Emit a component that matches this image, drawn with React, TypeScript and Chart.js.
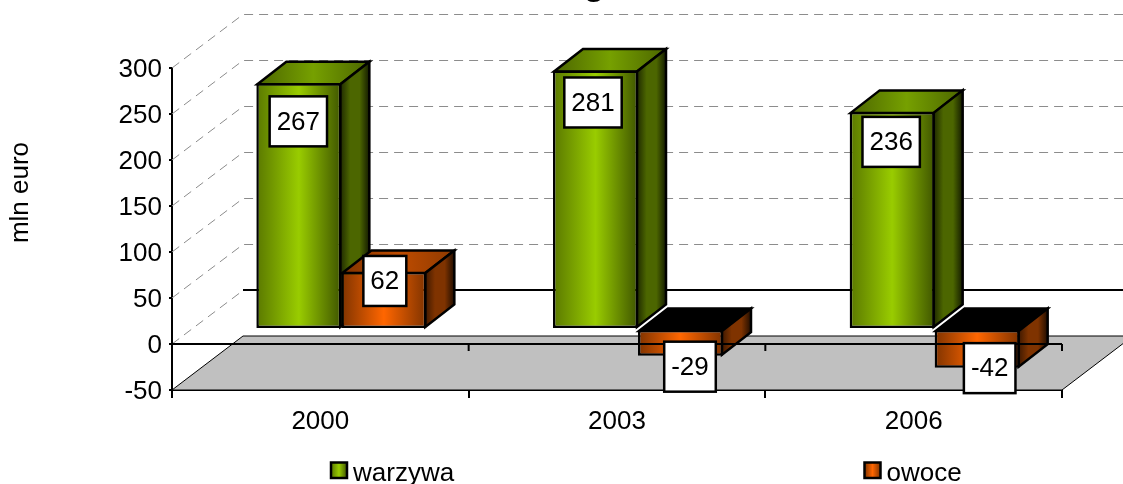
import React, { useEffect, useRef } from "react";
import { Chart, registerables } from "chart.js";

Chart.register(...registerables);

const categories = ["2000", "2003", "2006"];
const warzywa = [267, 281, 236];
const owoce = [62, -29, -42];
const seriesNames = ["warzywa", "owoce"];
const yTitle = "mln euro";
const clippedTitle = "g";

const FONT = '"Liberation Sans", Arial, sans-serif';
const FS = 26;
const BAR_SHIFT = { x: 21, y: -15 };
const BAR_DEPTH = { x: 29, y: -22.5 };
const WALL = { x: 71, y: -54 };
const LABEL_OFFSETS = [
  [{ x: -0.5, y: 38 }, { x: 1, y: 9 }],
  [{ x: -2.5, y: 32 }, { x: 9.5, y: 11 }],
  [{ x: -1, y: 30 }, { x: 12.5, y: 0.5 }],
];
const PALETTE = [
  { front: ["#5a7800", "#99cc00", "#3f5500"], side: ["#1f2a00", "#4c6600", "#4c6600", "#141b00"], top: ["#4c6600", "#76a000", "#4c6600"] },
  { front: ["#7f3300", "#ff6600", "#7f3300"], side: ["#3f1900", "#7f3300", "#7f3300", "#200d00"], top: ["#7f3300", "#bf4c00", "#8f3a00"] },
];

function grad(ctx: CanvasRenderingContext2D, x0: number, x1: number, stops: string[]) {
  const g = ctx.createLinearGradient(x0, 0, x1, 0);
  stops.forEach((c, i) => g.addColorStop(i / (stops.length - 1), c));
  return g;
}

function frontFill(ds: number) {
  return (c: any) => {
    const chart = c.chart;
    const sx = chart.scales?.x;
    if (!sx || !chart.chartArea) return PALETTE[ds].front[1];
    const center = sx.getPixelForValue(c.dataIndex);
    const w = (sx.width / categories.length) * 0.573 / 2;
    const left = ds === 0 ? center - w : center;
    return grad(chart.ctx, left, left + w, PALETTE[ds].front);
  };
}

function poly(ctx: CanvasRenderingContext2D, pts: number[][], fill: any, stroke = "#000", lw = 2.5) {
  ctx.beginPath();
  pts.forEach(([x, y], i) => (i ? ctx.lineTo(x, y) : ctx.moveTo(x, y)));
  ctx.closePath();
  if (fill) {
    ctx.fillStyle = fill;
    ctx.fill();
  }
  if (stroke) {
    ctx.strokeStyle = stroke;
    ctx.lineWidth = lw;
    ctx.lineJoin = "miter";
    ctx.stroke();
  }
}

function drawWalls(chart: any) {
  const { ctx, chartArea: a, scales } = chart;
  const y = scales.y;
  ctx.save();
  [300, 250, 200, 150, 100, 50, 0].forEach((v) => {
    const py = y.getPixelForValue(v);
    const back = Math.round(py + WALL.y) + 0.5;
    ctx.strokeStyle = "#8c8c8c";
    ctx.lineWidth = 1;
    ctx.setLineDash([9, 6]);
    ctx.beginPath();
    ctx.moveTo(a.left, py);
    ctx.lineTo(a.left + WALL.x, back);
    if (v !== 0) ctx.lineTo(a.right + WALL.x, back);
    ctx.stroke();
    ctx.setLineDash([]);
    if (v === 0) {
      ctx.strokeStyle = "#000";
      ctx.lineWidth = 2;
      ctx.beginPath();
      ctx.moveTo(a.left + WALL.x, py + WALL.y);
      ctx.lineTo(a.right + WALL.x, py + WALL.y);
      ctx.stroke();
    }
  });
  const fy = y.getPixelForValue(-50);
  poly(ctx, [[a.left, fy], [a.left + WALL.x, fy + WALL.y], [a.right + WALL.x, fy + WALL.y], [a.right, fy]], "#c0c0c0", "#000", 1);
  ctx.restore();
}

function drawBars(chart: any, ds: number) {
  const { ctx } = chart;
  const meta = chart.getDatasetMeta(ds);
  ctx.save();
  ctx.translate(BAR_SHIFT.x, BAR_SHIFT.y);
  meta.data.forEach((el: any) => {
    const l = el.x - el.width / 2 + 1;
    const r = el.x + el.width / 2 - 1;
    const t = Math.min(el.y, el.base) + 1;
    const b = Math.max(el.y, el.base) - 1;
    const neg = el.y > el.base;
    const d = BAR_DEPTH;
    poly(ctx, [[l, t], [r, t], [r + d.x, t + d.y], [l + d.x, t + d.y]],
      neg ? "#000" : grad(ctx, l, r + d.x, PALETTE[ds].top));
    poly(ctx, [[r, t], [r + d.x, t + d.y], [r + d.x, b + d.y], [r, b]], grad(ctx, r, r + d.x, PALETTE[ds].side));
  });
  meta.controller.draw();
  ctx.restore();
}

function drawOverlay(chart: any) {
  const { ctx, chartArea: a, scales } = chart;
  const y0 = scales.y.getPixelForValue(0);
  ctx.save();
  ctx.strokeStyle = "#000";
  ctx.lineWidth = 2;
  ctx.beginPath();
  ctx.moveTo(a.left, y0);
  ctx.lineTo(a.right, y0);
  for (let i = 0; i <= categories.length; i++) {
    const x = a.left + (i * a.width) / categories.length;
    ctx.moveTo(x, y0);
    ctx.lineTo(x, y0 + 7);
  }
  ctx.stroke();

  ctx.font = `${FS}px ${FONT}`;
  ctx.textAlign = "center";
  ctx.textBaseline = "middle";
  chart.data.datasets.forEach((_: any, ds: number) => {
    chart.getDatasetMeta(ds).data.forEach((el: any, i: number) => {
      const v = chart.data.datasets[ds].data[i];
      const off = LABEL_OFFSETS[i][ds];
      const cx = el.x + BAR_SHIFT.x + off.x;
      const cy = el.y + BAR_SHIFT.y + off.y;
      const text = String(v);
      const w = ctx.measureText(text).width + 14;
      const h = 50;
      ctx.fillStyle = "#fff";
      ctx.fillRect(cx - w / 2, cy - h / 2, w, h);
      ctx.strokeStyle = "#000";
      ctx.lineWidth = 2.5;
      ctx.strokeRect(cx - w / 2, cy - h / 2, w, h);
      ctx.fillStyle = "#000";
      ctx.fillText(text, cx, cy + 1);
    });
  });
  ctx.restore();
}

const scene3d = {
  id: "scene3d",
  beforeDatasetsDraw(chart: any) {
    drawWalls(chart);
    // left bar of each pair first, so the right bar overlaps its neighbour's side
    drawBars(chart, 0);
    drawBars(chart, 1);
    drawOverlay(chart);
    return false;
  },
  afterDraw(chart: any) {
    const { ctx } = chart;
    ctx.save();
    ctx.fillStyle = "#000";
    ctx.font = `40px ${FONT}`;
    ctx.textAlign = "center";
    ctx.textBaseline = "alphabetic";
    ctx.fillText(clippedTitle, 594, -6.5);
    ctx.font = `${FS}px ${FONT}`;
    ctx.save();
    ctx.translate(21, 192.5);
    ctx.rotate(-Math.PI / 2);
    ctx.textBaseline = "middle";
    ctx.fillText(yTitle, 0, 0);
    ctx.restore();
    const items = [
      { x: 331, ds: 0 },
      { x: 864.5, ds: 1 },
    ];
    ctx.textAlign = "left";
    ctx.textBaseline = "alphabetic";
    items.forEach(({ x, ds }) => {
      ctx.fillStyle = grad(ctx, x, x + 16, PALETTE[ds].front);
      ctx.fillRect(x, 462.5, 16, 15.5);
      ctx.strokeStyle = "#000";
      ctx.lineWidth = 2.5;
      ctx.strokeRect(x, 462.5, 16, 15.5);
      ctx.fillStyle = "#000";
      ctx.fillText(seriesNames[ds], x + 22, 481);
    });
    ctx.restore();
  },
};

export default function App() {
  const ref = useRef<HTMLCanvasElement>(null);
  useEffect(() => {
    document.body.style.margin = "0";
    const chart = new Chart(ref.current!, {
      type: "bar",
      data: {
        labels: categories,
        datasets: [
          { label: seriesNames[0], data: warzywa, backgroundColor: frontFill(0), borderColor: "#000", borderWidth: 2.5, borderSkipped: false, clip: false } as any,
          { label: seriesNames[1], data: owoce, backgroundColor: frontFill(1), borderColor: "#000", borderWidth: 2.5, borderSkipped: false, clip: false } as any,
        ],
      },
      options: {
        animation: false,
        responsive: false,
        devicePixelRatio: 1,
        layout: { padding: { top: 68, right: 61, left: 0, bottom: 0 } },
        datasets: { bar: { categoryPercentage: 0.573, barPercentage: 1 } },
        plugins: { legend: { display: false }, title: { display: false }, tooltip: { enabled: false } },
        scales: {
          x: {
            offset: true,
            afterFit: (s: any) => { s.height = 94; },
            grid: { display: true, drawOnChartArea: false, drawTicks: true, tickLength: 8, color: "#000", lineWidth: 2, offset: true },
            border: { display: true, color: "#000", width: 2 },
            ticks: { color: "#000", font: { family: FONT, size: FS }, padding: 8, maxRotation: 0 },
          },
          y: {
            min: -50,
            max: 300,
            afterFit: (s: any) => { s.width = 172; },
            grid: { display: true, drawOnChartArea: false, drawTicks: true, tickLength: 3, color: "#000", lineWidth: 2 },
            border: { display: true, color: "#000", width: 2 },
            ticks: { stepSize: 50, color: "#000", font: { family: FONT, size: FS }, padding: 7, labelOffset: 2 },
          },
        },
      },
      plugins: [scene3d],
    } as any);
    return () => chart.destroy();
  }, []);
  return <canvas ref={ref} width={1123} height={484} style={{ display: "block" }} />;
}
